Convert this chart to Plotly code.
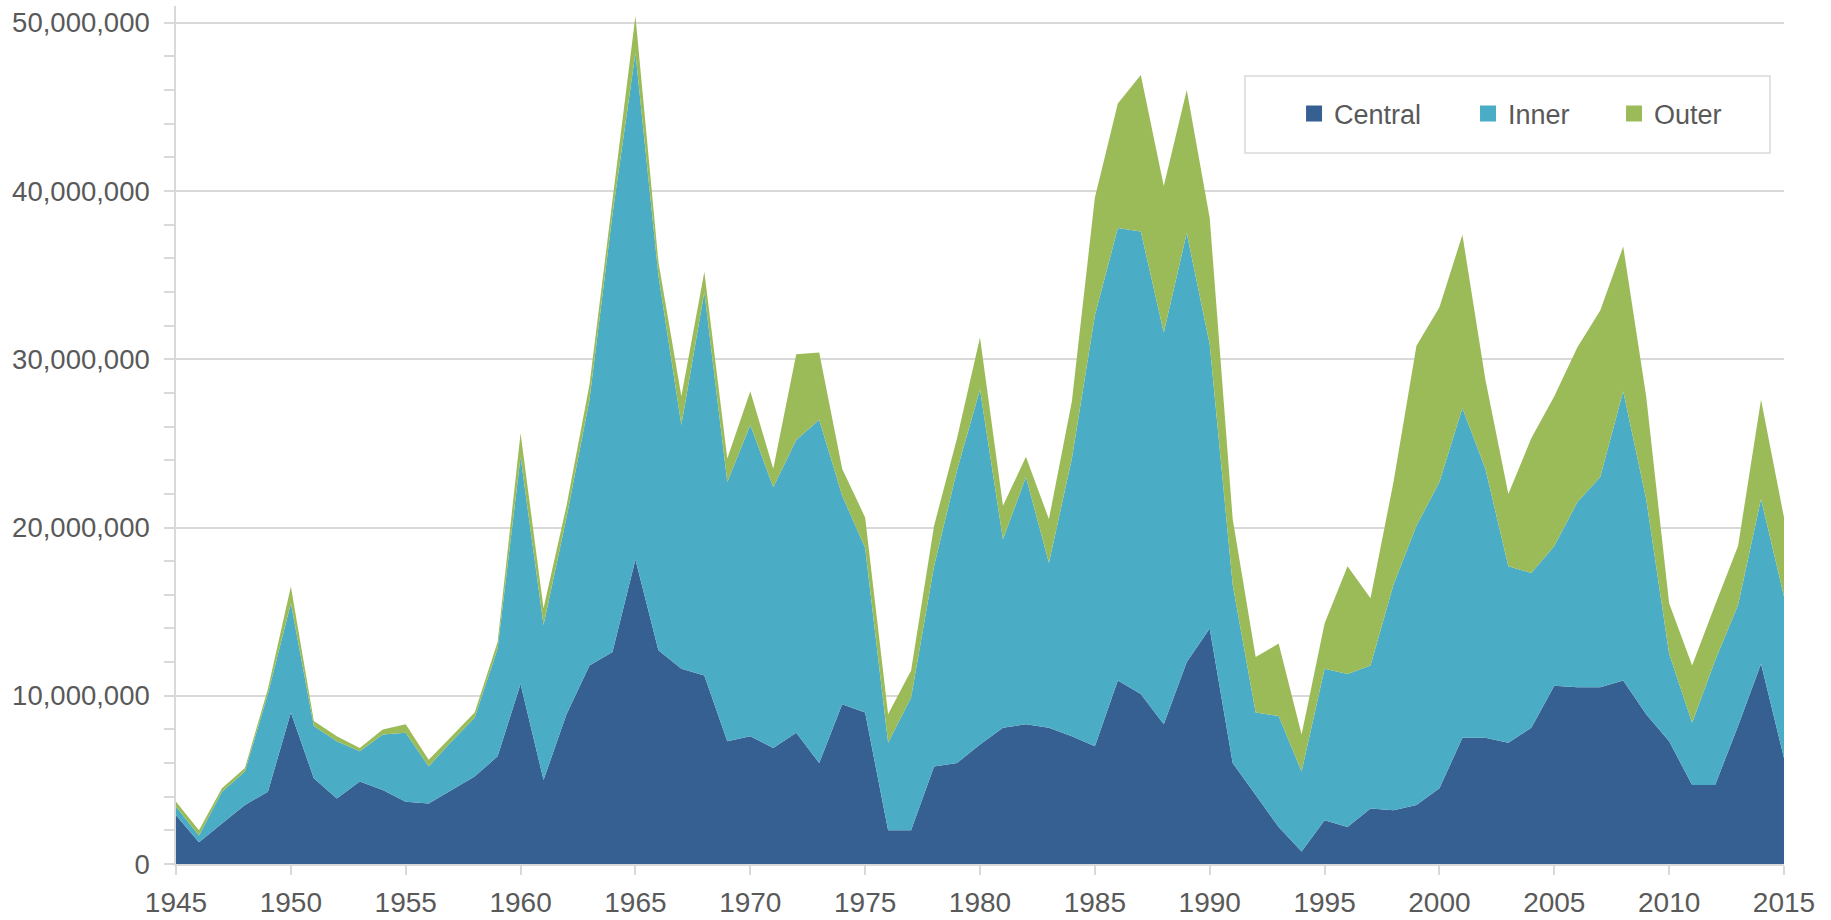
import plotly.graph_objects as go

years = list(range(1945, 2016))

central = [2.9e6, 1.3e6, 2.4e6, 3.5e6, 4.3e6, 9.0e6, 5.1e6, 3.9e6, 4.9e6, 4.4e6,
           3.7e6, 3.6e6, 4.4e6, 5.2e6, 6.4e6, 10.7e6, 5.0e6, 8.9e6, 11.8e6, 12.6e6,
           18.1e6, 12.7e6, 11.6e6, 11.2e6, 7.3e6, 7.6e6, 6.9e6, 7.8e6, 6.0e6, 9.5e6,
           9.0e6, 2.0e6, 2.0e6, 5.8e6, 6.0e6, 7.1e6, 8.1e6, 8.3e6, 8.1e6, 7.6e6,
           7.0e6, 10.9e6, 10.1e6, 8.3e6, 12.0e6, 14.0e6, 6.0e6, 4.1e6, 2.2e6, 0.75e6,
           2.6e6, 2.2e6, 3.3e6, 3.2e6, 3.5e6, 4.5e6, 7.5e6, 7.5e6, 7.2e6, 8.1e6,
           10.6e6, 10.5e6, 10.5e6, 10.9e6, 8.9e6, 7.3e6, 4.7e6, 4.7e6, 8.2e6, 11.9e6,
           6.3e6]

inner = [0.5e6, 0.4e6, 1.9e6, 2.0e6, 5.8e6, 6.5e6, 3.1e6, 3.4e6, 1.8e6, 3.3e6,
         4.1e6, 2.2e6, 2.9e6, 3.5e6, 6.4e6, 13.5e6, 9.2e6, 11.7e6, 15.8e6, 26.0e6,
         30.1e6, 22.3e6, 14.5e6, 22.8e6, 15.4e6, 18.5e6, 15.5e6, 17.4e6, 20.4e6, 12.4e6,
         9.8e6, 5.2e6, 7.9e6, 11.9e6, 17.4e6, 21.1e6, 11.2e6, 14.7e6, 9.8e6, 16.5e6,
         25.6e6, 26.9e6, 27.5e6, 23.3e6, 25.5e6, 16.9e6, 10.6e6, 4.9e6, 6.6e6, 4.75e6,
         9.0e6, 9.1e6, 8.5e6, 13.4e6, 16.6e6, 18.2e6, 19.6e6, 16.0e6, 10.5e6, 9.2e6,
         8.3e6, 11.0e6, 12.5e6, 17.2e6, 12.8e6, 5.2e6, 3.7e6, 7.4e6, 7.2e6, 9.8e6,
         9.6e6]

outer = [0.3e6, 0.3e6, 0.2e6, 0.2e6, 0.3e6, 1.0e6, 0.3e6, 0.3e6, 0.2e6, 0.3e6,
         0.5e6, 0.4e6, 0.3e6, 0.3e6, 0.4e6, 1.4e6, 1.0e6, 0.7e6, 0.9e6, 1.0e6,
         2.2e6, 0.8e6, 1.7e6, 1.2e6, 1.4e6, 2.0e6, 1.1e6, 5.1e6, 4.0e6, 1.6e6,
         1.8e6, 1.7e6, 1.6e6, 2.4e6, 1.9e6, 3.1e6, 2.0e6, 1.2e6, 2.6e6, 3.4e6,
         7.0e6, 7.4e6, 9.3e6, 8.7e6, 8.5e6, 7.5e6, 3.9e6, 3.3e6, 4.3e6, 2.2e6,
         2.7e6, 6.4e6, 4.0e6, 6.1e6, 10.7e6, 10.4e6, 10.3e6, 5.3e6, 4.3e6, 8.0e6,
         8.9e6, 9.2e6, 9.9e6, 8.6e6, 6.1e6, 3.0e6, 3.4e6, 3.3e6, 3.5e6, 5.9e6,
         4.7e6]

series_names = ["Central", "Inner", "Outer"]
series_values = [central, inner, outer]
series_colors = ["#376092", "#4BACC6", "#9BBB59"]

x_ticks = list(range(1945, 2016, 5))
y_ticks = [0, 10e6, 20e6, 30e6, 40e6, 50e6]

FONT = "Liberation Sans"
TXT = "#595959"
GRID = "#D9D9D9"

fig = go.Figure()

for name, vals, col in zip(series_names, series_values, series_colors):
    fig.add_trace(go.Scatter(
        x=years, y=vals, name=name, mode="lines",
        stackgroup="one", line=dict(width=0, color=col),
        fillcolor=col, showlegend=False, hoverinfo="x+y+name",
    ))

# legend entries (square swatches), one legend per item for exact placement
legend_ids = ["legend", "legend2", "legend3"]
legend_x = [0.6953, 0.8035, 0.8943]
for name, col, lid in zip(series_names, series_colors, legend_ids):
    fig.add_trace(go.Scatter(
        x=[None], y=[None], name=name, mode="markers",
        marker=dict(symbol="square", size=16, color=col),
        showlegend=True, legend=lid,
    ))

legend_common = dict(
    orientation="h", yanchor="middle", xanchor="left", y=0.8741,
    bgcolor="rgba(0,0,0,0)", borderwidth=0,
    font=dict(family=FONT, size=27, color=TXT),
)
layout_legends = {}
for lid, lx in zip(legend_ids, legend_x):
    layout_legends[lid] = dict(legend_common, x=lx)

fig.update_layout(
    width=1831, height=920,
    margin=dict(l=176, r=47, t=6, b=56, pad=0, autoexpand=False),
    paper_bgcolor="white", plot_bgcolor="white",
    font=dict(family=FONT, size=27, color=TXT),
    showlegend=True,
    **layout_legends,
    xaxis=dict(
        range=[1945, 2015], tickmode="array", tickvals=x_ticks,
        ticktext=[str(v) for v in x_ticks],
        showgrid=False, zeroline=False, automargin=False,
        showline=True, linecolor=GRID, linewidth=1.5,
        ticks="outside", ticklen=9, tickcolor=GRID, tickwidth=1.5,
        tickfont=dict(family=FONT, size=28, color=TXT),
        ticklabelstandoff=4,
    ),
    yaxis=dict(
        range=[0, 51e6], tickmode="array", tickvals=y_ticks,
        tickformat=",d", automargin=False,
        showgrid=True, gridcolor=GRID, gridwidth=1.5,
        zeroline=False,
        showline=True, linecolor=GRID, linewidth=1.5,
        ticks="outside", ticklen=10, tickcolor=GRID, tickwidth=1.5,
        minor=dict(dtick=2e6, tick0=0, ticks="outside", ticklen=10,
                   tickcolor=GRID, tickwidth=1.5, showgrid=False),
        tickfont=dict(family=FONT, size=27.5, color=TXT),
        ticklabelstandoff=9,
    ),
    shapes=[dict(
        type="rect", xref="paper", yref="paper",
        x0=0.6648, x1=0.9913, y0=0.8287, y1=0.9184,
        line=dict(color=GRID, width=1.5), fillcolor="white", layer="above",
    )],
)

fig.write_html("out.html", config={"displayModeBar": False},
               post_script="document.body.style.margin='0px';")
